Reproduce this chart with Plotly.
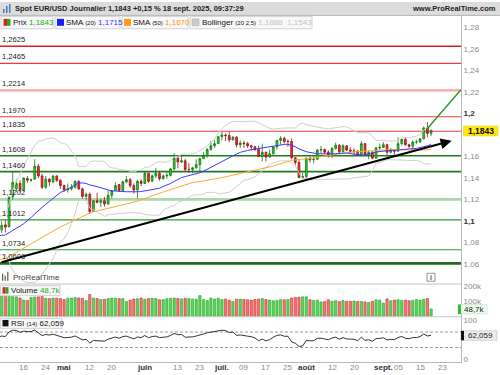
import numpy as np
import pandas as pd
import plotly.graph_objects as go

# ---------------- data ----------------
# closes before the visible window (needed for the moving averages / RSI)
pre_closes = [1.0490, 1.0430, 1.0420, 1.0390, 1.0360, 1.0345, 1.0380, 1.0405, 1.0380, 1.0330,
              1.0310, 1.0360, 1.0380, 1.0465, 1.0490, 1.0485, 1.0445, 1.0420, 1.0500, 1.0460,
              1.0465, 1.0510, 1.0485, 1.0400, 1.0375, 1.0485, 1.0625, 1.0790, 1.0785, 1.0835,
              1.0835, 1.0920, 1.0890, 1.0850, 1.0880, 1.0920, 1.0945, 1.0900, 1.0855, 1.0815,
              1.0800, 1.0790, 1.0755, 1.0800, 1.0830, 1.0815, 1.0790, 1.0850, 1.1050, 1.0960,
              1.0910]

dates = pd.bdate_range("2025-04-08", "2025-09-18")

opens = [1.0920, 1.0965, 1.0950, 1.1225, 1.1300, 1.1350, 1.1290, 1.1395, 1.1380, 1.1390,
         1.1510, 1.1420, 1.1315, 1.1390, 1.1365, 1.1420, 1.1380, 1.1330, 1.1290, 1.1300,
         1.1315, 1.1370, 1.1300, 1.1230, 1.1250, 1.1090, 1.1190, 1.1175, 1.1190, 1.1160,
         1.1240, 1.1285, 1.1340, 1.1285, 1.1365, 1.1385, 1.1330, 1.1290, 1.1370, 1.1350,
         1.1445, 1.1370, 1.1420, 1.1445, 1.1395, 1.1420, 1.1425, 1.1485, 1.1585, 1.1550,
         1.1560, 1.1480, 1.1480, 1.1495, 1.1525, 1.1580, 1.1610, 1.1665, 1.1700, 1.1720,
         1.1785, 1.1800, 1.1795, 1.1755, 1.1780, 1.1710, 1.1725, 1.1720, 1.1700, 1.1690,
         1.1665, 1.1600, 1.1640, 1.1595, 1.1625, 1.1690, 1.1750, 1.1770, 1.1740, 1.1740,
         1.1590, 1.1545, 1.1405, 1.1415, 1.1585, 1.1570, 1.1575, 1.1660, 1.1665, 1.1640,
         1.1615, 1.1675, 1.1705, 1.1645, 1.1700, 1.1660, 1.1650, 1.1650, 1.1610, 1.1720,
         1.1620, 1.1640, 1.1585, 1.1680, 1.1685, 1.1710, 1.1640, 1.1660, 1.1650, 1.1720,
         1.1760, 1.1710, 1.1695, 1.1735, 1.1735, 1.1765, 1.1865, 1.1815]
highs = [1.1000, 1.1010, 1.1235, 1.1460, 1.1390, 1.1380, 1.1405, 1.1420, 1.1395, 1.1575,
         1.1530, 1.1440, 1.1420, 1.1400, 1.1425, 1.1425, 1.1390, 1.1340, 1.1350, 1.1345,
         1.1380, 1.1380, 1.1310, 1.1265, 1.1265, 1.1195, 1.1265, 1.1210, 1.1225, 1.1285,
         1.1290, 1.1360, 1.1345, 1.1375, 1.1420, 1.1400, 1.1350, 1.1385, 1.1390, 1.1455,
         1.1450, 1.1435, 1.1495, 1.1460, 1.1435, 1.1450, 1.1495, 1.1630, 1.1615, 1.1615,
         1.1580, 1.1540, 1.1505, 1.1575, 1.1590, 1.1640, 1.1680, 1.1745, 1.1755, 1.1790,
         1.1830, 1.1815, 1.1830, 1.1790, 1.1790, 1.1750, 1.1745, 1.1735, 1.1710, 1.1700,
         1.1700, 1.1720, 1.1645, 1.1665, 1.1695, 1.1755, 1.1790, 1.1785, 1.1760, 1.1770,
         1.1595, 1.1575, 1.1450, 1.1590, 1.1600, 1.1600, 1.1670, 1.1700, 1.1675, 1.1660,
         1.1690, 1.1730, 1.1715, 1.1715, 1.1705, 1.1685, 1.1675, 1.1660, 1.1745, 1.1725,
         1.1660, 1.1655, 1.1690, 1.1720, 1.1735, 1.1720, 1.1680, 1.1665, 1.1780, 1.1765,
         1.1780, 1.1720, 1.1750, 1.1755, 1.1770, 1.1880, 1.1920, 1.1850]
lows = [1.0890, 1.0895, 1.0940, 1.1200, 1.1275, 1.1265, 1.1275, 1.1355, 1.1365, 1.1385,
        1.1400, 1.1300, 1.1300, 1.1325, 1.1350, 1.1365, 1.1300, 1.1275, 1.1265, 1.1285,
        1.1300, 1.1290, 1.1205, 1.1200, 1.1065, 1.1085, 1.1165, 1.1130, 1.1135, 1.1150,
        1.1210, 1.1280, 1.1270, 1.1280, 1.1355, 1.1310, 1.1255, 1.1210, 1.1325, 1.1345,
        1.1355, 1.1365, 1.1400, 1.1375, 1.1385, 1.1395, 1.1415, 1.1470, 1.1490, 1.1540,
        1.1460, 1.1450, 1.1445, 1.1490, 1.1455, 1.1580, 1.1590, 1.1655, 1.1680, 1.1715,
        1.1750, 1.1745, 1.1735, 1.1750, 1.1685, 1.1680, 1.1680, 1.1680, 1.1655, 1.1650,
        1.1595, 1.1555, 1.1555, 1.1590, 1.1620, 1.1665, 1.1710, 1.1720, 1.1690, 1.1575,
        1.1520, 1.1400, 1.1390, 1.1390, 1.1545, 1.1535, 1.1570, 1.1630, 1.1625, 1.1590,
        1.1585, 1.1665, 1.1630, 1.1640, 1.1650, 1.1630, 1.1615, 1.1605, 1.1605, 1.1615,
        1.1575, 1.1575, 1.1580, 1.1660, 1.1680, 1.1610, 1.1630, 1.1615, 1.1645, 1.1705,
        1.1700, 1.1680, 1.1660, 1.1715, 1.1725, 1.1760, 1.1780, 1.1790]
closes = [1.0960, 1.0945, 1.1220, 1.1360, 1.1350, 1.1290, 1.1400, 1.1380, 1.1385, 1.1510,
          1.1420, 1.1315, 1.1390, 1.1365, 1.1420, 1.1380, 1.1330, 1.1290, 1.1300, 1.1315,
          1.1370, 1.1300, 1.1230, 1.1250, 1.1090, 1.1190, 1.1175, 1.1190, 1.1160, 1.1240,
          1.1285, 1.1330, 1.1285, 1.1365, 1.1385, 1.1330, 1.1290, 1.1370, 1.1350, 1.1445,
          1.1370, 1.1420, 1.1445, 1.1395, 1.1420, 1.1425, 1.1485, 1.1585, 1.1550, 1.1560,
          1.1480, 1.1480, 1.1495, 1.1525, 1.1580, 1.1610, 1.1665, 1.1700, 1.1720, 1.1785,
          1.1800, 1.1795, 1.1755, 1.1780, 1.1710, 1.1725, 1.1720, 1.1700, 1.1690, 1.1665,
          1.1600, 1.1640, 1.1595, 1.1625, 1.1690, 1.1750, 1.1770, 1.1740, 1.1740, 1.1590,
          1.1545, 1.1405, 1.1415, 1.1585, 1.1570, 1.1575, 1.1660, 1.1665, 1.1640, 1.1615,
          1.1675, 1.1705, 1.1645, 1.1700, 1.1660, 1.1650, 1.1650, 1.1610, 1.1720, 1.1620,
          1.1640, 1.1585, 1.1680, 1.1685, 1.1710, 1.1640, 1.1660, 1.1650, 1.1720, 1.1760,
          1.1710, 1.1695, 1.1735, 1.1735, 1.1765, 1.1865, 1.1815, 1.1843]
volumes_k = [135, 133, 140, 132, 130, 122, 108, 105, 125, 128,
             130, 133, 120, 118, 122, 121, 119, 112, 120, 122,
             125, 122, 120, 105, 145, 122, 118, 112, 113, 118,
             122, 121, 118, 118, 98, 108, 115, 117, 122, 114,
             118, 120, 118, 110, 112, 117, 120, 122, 118, 116,
             120, 118, 116, 114, 138, 112, 105, 122, 115, 120,
             112, 115, 108, 100, 114, 115, 112, 110, 108, 112,
             115, 118, 112, 108, 104, 106, 112, 110, 112, 122,
             126, 128, 130, 130, 110, 106, 108, 96, 98, 110,
             100, 104, 98, 106, 100, 100, 102, 98, 99, 96,
             92, 100, 110, 108, 88, 116, 103, 108, 110, 106,
             108, 104, 106, 112, 108, 114, 118, 48.7]

# support / resistance levels
res_levels = [1.2625, 1.2465, 1.2214, 1.1970, 1.1835]
sup_levels = [1.1608, 1.1460, 1.1202, 1.1012, 1.0734, 1.0608]

# drawn trend lines (index, price)
trend_x = [-0.46, 122.6]
trend_y = [1.0615, 1.1746]
proj_x = [115.8, 125.15]
proj_y = [1.1853, 1.2222]

# time-axis ticks
tick_dates = ["2025-04-16", "2025-04-24", "2025-05-01", "2025-05-12", "2025-05-20",
              "2025-06-02", "2025-06-13", "2025-06-23", "2025-07-01", "2025-07-09",
              "2025-07-17", "2025-07-25", "2025-08-01", "2025-08-12", "2025-08-20",
              "2025-09-01", "2025-09-05", "2025-09-15", "2025-09-23"]
tick_text = ["16", "24", "mai", "12", "20", "juin", "13", "23", "juil.", "09",
             "17", "25", "août", "12", "20", "sept.", "05", "15", "23"]
month_names = {"mai", "juin", "juil.", "août", "sept."}

price_ticks = [1.06, 1.08, 1.10, 1.12, 1.14, 1.16, 1.20, 1.22, 1.24, 1.26, 1.28]

# ---------------- derived ----------------
W, H = 500, 375
FONT = "Liberation Sans, Arial, sans-serif"
n = len(closes)
xi = np.arange(n)
n_pre = len(pre_closes)
x_all = np.arange(-n_pre, n)
s = pd.Series(pre_closes + closes)
sma20 = s.rolling(20).mean()
sma50 = s.rolling(50).mean()
sd20 = s.rolling(20).std(ddof=0)
bb_up = sma20 + 2.5 * sd20
bb_lo = sma20 - 2.5 * sd20
d = s.diff()
g = d.clip(lower=0)
l = (-d).clip(lower=0)
ag = g.ewm(alpha=1 / 14, adjust=False).mean()
al = l.ewm(alpha=1 / 14, adjust=False).mean()
rsi = 100 - 100 / (1 + ag / al)

mask = x_all >= -3

all_days = pd.bdate_range("2025-04-08", "2025-09-30")
pos = {dd.strftime("%Y-%m-%d"): i for i, dd in enumerate(all_days)}
tickvals = [pos[t] for t in tick_dates]

X0, X1 = -0.463, 125.15
XR = 461 / W


def py(p):
    return 1 - p / H


fig = go.Figure()

# Bollinger
for band in (bb_up, bb_lo):
    fig.add_trace(go.Scatter(x=x_all[mask], y=band[mask], mode="lines",
                             line=dict(color="#cfcfcf", width=1), hoverinfo="skip"))
fig.add_trace(go.Scatter(x=x_all[mask], y=sma50[mask], mode="lines",
                         line=dict(color="#ffa733", width=1), hoverinfo="skip"))
fig.add_trace(go.Scatter(x=x_all[mask], y=sma20[mask], mode="lines",
                         line=dict(color="#3a3aff", width=1), hoverinfo="skip"))

fig.add_trace(go.Candlestick(x=xi, open=opens, high=highs, low=lows, close=closes,
                             increasing=dict(fillcolor="#38c838", line=dict(color="#127a12", width=0.8)),
                             decreasing=dict(fillcolor="#ee3030", line=dict(color="#9a1414", width=0.8)),
                             whiskerwidth=0, hoverinfo="skip"))

# projection line
fig.add_trace(go.Scatter(x=proj_x, y=proj_y, mode="lines",
                         line=dict(color="#1f9a1f", width=1.4), hoverinfo="skip"))

# volume
vcol = ["#5ad35a" if c >= o else "#f07878" for o, c in zip(opens, closes)]
vline = ["#22aa22" if c >= o else "#d42a2a" for o, c in zip(opens, closes)]
fig.add_trace(go.Bar(x=xi, y=[v * 1000 for v in volumes_k], yaxis="y2",
                     marker=dict(color=vcol, line=dict(color=vline, width=0.6)),
                     width=0.62, hoverinfo="skip"))

# RSI
fig.add_trace(go.Scatter(x=x_all[mask], y=rsi[mask], yaxis="y3", mode="lines",
                         line=dict(color="#333", width=1), hoverinfo="skip"))

shapes = []
annots = []

# trend line with arrow head
annots.append(dict(x=trend_x[1], y=trend_y[1], ax=trend_x[0], ay=trend_y[0],
                   xref="x", yref="y", axref="x", ayref="y", text="", showarrow=True,
                   arrowhead=2, arrowsize=1.1, arrowwidth=2, arrowcolor="#000"))

# horizontal levels
res_style = [("#d81e1e", 1.6), ("#f03a3a", 1.2), ("#f5a8a8", 2.2), ("#f03a3a", 1.2), ("#f03a3a", 1.2)]
sup_style = [("#1d7a1d", 1.6), ("#1d7a1d", 1.6), ("#a9d9a9", 2.6), ("#2f9a2f", 1.1), ("#2f9a2f", 1.1), ("#1d6e1d", 2.6)]
for lv, (c, w) in list(zip(res_levels, res_style)) + list(zip(sup_levels, sup_style)):
    shapes.append(dict(type="line", xref="paper", yref="y", x0=0, x1=XR, y0=lv, y1=lv,
                       line=dict(color=c, width=w), layer="below"))
    annots.append(dict(xref="paper", yref="y", x=1 / W, y=lv, yanchor="bottom", xanchor="left",
                       text=("%.4f" % lv).replace(".", ","), showarrow=False,
                       font=dict(family=FONT, size=7.6, color="#222"), borderpad=0, yshift=1))

# RSI dashed lines
for lv in (30, 70):
    shapes.append(dict(type="line", xref="paper", yref="y3", x0=0, x1=XR, y0=lv, y1=lv,
                       line=dict(color="#999", width=1, dash="3px,2px"), layer="below"))

# panel separators
for pyy in (284.3, 317.3):
    shapes.append(dict(type="line", xref="paper", yref="paper", x0=0, x1=XR, y0=py(pyy), y1=py(pyy),
                       line=dict(color="#c4c4c4", width=1)))


def rect(x0, y0, x1, y1, fill, line=None, lw=1):
    shapes.append(dict(type="rect", xref="paper", yref="paper", x0=x0 / W, x1=x1 / W,
                       y0=py(y1), y1=py(y0), fillcolor=fill,
                       line=dict(color=line if line else fill, width=lw if line else 0), layer="above"))


def txt(x, y, s, size=8, color="#222", anchor="left"):
    annots.append(dict(xref="paper", yref="paper", x=x / W, y=py(y), text=s, showarrow=False,
                       xanchor=anchor, yanchor="middle", borderpad=0,
                       font=dict(family=FONT, size=size, color=color)))


# time-axis labels (placed along the shared x axis)
for tv, tt in zip(tickvals, tick_text):
    lab = ("<b>%s</b>" % tt) if tt in month_names else tt
    annots.append(dict(xref="x", yref="paper", x=tv, y=py(368), text=lab, showarrow=False,
                       xanchor="center", yanchor="middle", borderpad=0,
                       font=dict(family=FONT, size=8, color="#333" if tt in month_names else "#8a8a8a")))

# title bar
rect(0, 0, 500, 13.5, "#dcdcdc")
shapes.append(dict(type="line", xref="paper", yref="paper", x0=0, x1=1, y0=py(13.5), y1=py(13.5),
                   line=dict(color="#b4b4b4", width=1)))
rect(3, 7, 4.5, 11, "#4a78c0")
rect(6, 4, 7.5, 11, "#4a78c0")
rect(9, 2, 10.5, 11, "#4a78c0")
txt(14, 7, "<b>Spot EUR/USD Journalier 1,1843 +0,15 % 18 sept. 2025, 09:37:29</b>", 7.5, "#222")
txt(497, 7, "<b>www.ProRealTime.com</b>", 7.5, "#222", "right")

# top legend boxes
rect(1, 14.5, 53, 27, "#f8f8f8", "#d2d2d2")
rect(3.5, 17, 7, 24, "#e02020")
rect(7, 17, 10.5, 24, "#22aa22")
txt(12, 21, "Prix <span style='color:#22aa22'>1,1843</span>", 8, "#111")
rect(55, 14.5, 120, 27, "#f8f8f8", "#d2d2d2")
rect(57, 17, 64, 24, "#1a1aff")
txt(65, 21, "SMA <span style='font-size:6px'>(20)</span> <span style='color:#3333ff'>1,1715</span>", 8, "#111")
rect(122, 14.5, 188, 27, "#f8f8f8", "#d2d2d2")
rect(124, 17, 131, 24, "#ff9a1a")
txt(132, 21, "SMA <span style='font-size:6px'>(50)</span> <span style='color:#ff9900'>1,1670</span>", 8, "#111")
rect(190, 14.5, 312, 27, "#f8f8f8", "#d2d2d2")
rect(192, 17, 199, 24, "#cccccc", "#aaaaaa", 0.5)
txt(201, 21, "Bollinger <span style='font-size:6px'>(20 2,5)</span> <span style='color:#c4c4c4'>1,1888  1,1543</span>", 8, "#111")

# watermark & info icon
rect(2, 274, 3.2, 281, "#555")
rect(4.6, 276, 5.8, 281, "#555")
rect(7.2, 272, 8.4, 281, "#555")
txt(12, 278, "ProRealTime", 8, "#444")
rect(427, 273.5, 435, 281.5, "#ffffff", "#777", 0.8)
txt(431, 277.6, "<b>i</b>", 7, "#555", "center")

# volume legend
rect(0.5, 286, 60, 296, "#f8f8f8", "#d2d2d2")
rect(2.5, 287.5, 5.5, 294, "#e02020")
rect(5.5, 287.5, 8.5, 294, "#22aa22")
txt(10, 291, "Volume <span style='color:#22aa22'>48,7k</span>", 8, "#111")
# RSI legend
rect(0.5, 319, 62, 329, "#f8f8f8", "#d2d2d2")
rect(2.5, 320.5, 8.5, 327, "#111")
txt(10, 324, "RSI <span style='font-size:6px'>(14)</span> 62,059", 8, "#111")

# price labels on right
rect(463.5, 125, 498, 135, "#ffe814", "#e8cf00", 0.5)
txt(480.7, 130.2, "<b>1,1843</b>", 8.5, "#111", "center")
rect(458, 305, 487, 314.5, "#eef8ee", "#b8e0b8", 0.6)
rect(458, 305, 461, 314.5, "#33bb33")
txt(474, 309.8, "48,7k", 8, "#222", "center")
rect(461, 331.5, 497, 341, "#ececec", "#bdbdbd", 0.6)
rect(461, 331.5, 464, 341, "#111")
txt(480.5, 336.3, "62,059", 8, "#222", "center")

price_text = [("%.2f" % v).rstrip("0").replace(".", ",") if round(v * 100) % 10 == 0 else ("%.2f" % v).replace(".", ",") for v in price_ticks]
price_text = [("<b><span style='color:#333'>%s</span></b>" % t) if t in ("1,1", "1,2") else t for t in price_text]

axis_common = dict(showgrid=False, zeroline=False, side="right", anchor="x", ticks="",
                   showline=True, linecolor="#b9b9b9", linewidth=1,
                   tickfont=dict(family=FONT, size=8, color="#8a8a8a"))

fig.update_layout(
    width=W, height=H, margin=dict(l=0, r=0, t=0, b=0),
    paper_bgcolor="white", plot_bgcolor="white", showlegend=False,
    xaxis=dict(range=[X0, X1], domain=[0, XR], anchor="y3", showgrid=False, zeroline=False,
               showticklabels=False, ticks="", showline=True, linecolor="#b9b9b9",
               rangeslider=dict(visible=False)),
    yaxis=dict(domain=[py(284.3), py(14)], range=[1.04157, 1.29069],
               tickvals=price_ticks, ticktext=price_text, **axis_common),
    yaxis2=dict(domain=[py(317.3), py(284.3)], range=[-4000, 216000],
                tickvals=[100000, 200000], ticktext=["100k", "200k"], **axis_common),
    yaxis3=dict(domain=[py(363.3), py(317.3)], range=[-8.5, 109.5],
                tickvals=[0, 100], ticktext=["0", "100"], **axis_common),
    shapes=shapes, annotations=annots,
)

fig.write_html("out.html", config={"displayModeBar": False},
               post_script="document.body.style.margin='0';document.body.style.padding='0';")
